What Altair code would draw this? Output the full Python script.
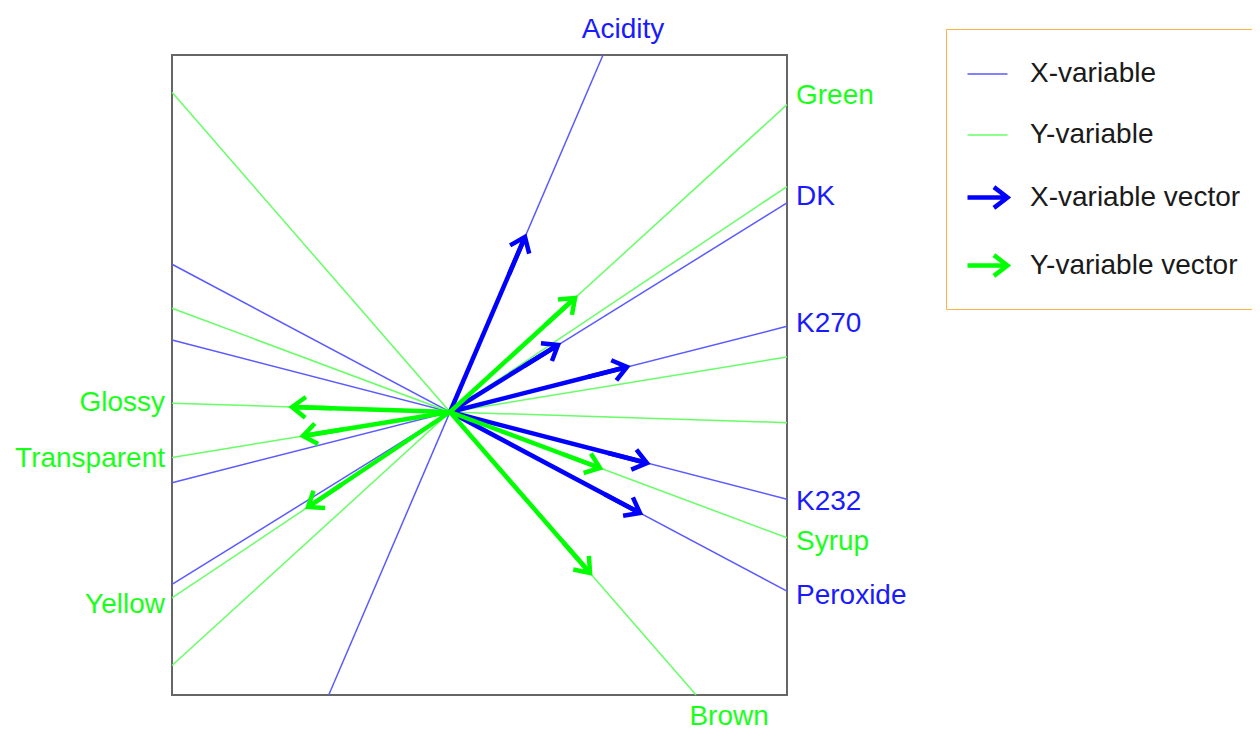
import math
import altair as alt
import pandas as pd

# ---- data (units: loadings, centre at 0,0) ----
x_names = ["Acidity", "DK", "K270", "K232", "Peroxide"]
x_vec_x = [0.75, 1.08, 1.77, 1.97, 1.90]
x_vec_y = [1.75, 0.67, 0.45, -0.51, -1.01]

y_names = ["Green", "Yellow", "Transparent", "Glossy", "Syrup", "Brown"]
y_vec_x = [1.25, -1.42, -1.47, -1.58, 1.50, 1.40]
y_vec_y = [1.14, -0.95, -0.24, 0.05, -0.56, -1.61]

legend_labels = ["X-variable", "Y-variable", "X-variable vector", "Y-variable vector"]

X_DOMAIN = [-2.78, 3.37]
Y_DOMAIN = [-2.83, 3.57]
LABEL_EXT = 0.10  # how far side labels sit beyond the box, along their line

# ---- styles ----
LINE_BLUE = "#5a5aff"
LINE_GREEN = "#66ff66"
ARROW_BLUE = "#0000ff"
ARROW_GREEN = "#00ff00"
TEXT_BLUE = "#1a1aff"
TEXT_GREEN = "#1aff1a"
FONT = "Liberation Sans"
# symbol paths: tip at the origin, drawn pointing right (rotated by 'angle')
LINE_PATH = "M-2,0L0,0"
ARROW_PATH = "M-2,0L0,0M-0.68,-0.52L0,0L-0.68,0.52"


def edge(vx, vy):
    """Scale factor that carries direction (vx, vy) from the centre to the box edge."""
    cands = []
    if vx > 0:
        cands.append((X_DOMAIN[1] / vx, "right"))
    elif vx < 0:
        cands.append((X_DOMAIN[0] / vx, "left"))
    if vy > 0:
        cands.append((Y_DOMAIN[1] / vy, "top"))
    elif vy < 0:
        cands.append((Y_DOMAIN[0] / vy, "bottom"))
    return min(cands)


line_rows, vec_rows, label_rows = [], [], []
for grp, names, vxs, vys in [("X", x_names, x_vec_x, x_vec_y),
                             ("Y", y_names, y_vec_x, y_vec_y)]:
    for name, vx, vy in zip(names, vxs, vys):
        tp, side = edge(vx, vy)
        tn, _ = edge(-vx, -vy)
        line_rows.append({"kind": f"{grp}-variable", "x1": -tn * vx, "y1": -tn * vy,
                          "x2": tp * vx, "y2": tp * vy})
        vec_rows.append({"kind": f"{grp}-variable vector", "x0": 0.0, "y0": 0.0,
                         "xt": vx, "yt": vy,
                         "angle": math.degrees(math.atan2(-vy, vx)) % 360})
        tl = tp + (LABEL_EXT / abs(vx) if side in ("left", "right") else 0.0)
        label_rows.append({"name": name, "group": grp, "side": side,
                           "lx": tp * vx, "ly": tl * vy})

lines_df = pd.DataFrame(line_rows)
vec_df = pd.DataFrame(vec_rows)
label_df = pd.DataFrame(label_rows)

xs = alt.Scale(domain=X_DOMAIN, nice=False, zero=False)
ys = alt.Scale(domain=Y_DOMAIN, nice=False, zero=False)
color_scale = alt.Scale(domain=legend_labels,
                        range=[LINE_BLUE, LINE_GREEN, ARROW_BLUE, ARROW_GREEN])
shape_scale = alt.Scale(domain=legend_labels,
                        range=[LINE_PATH, LINE_PATH, ARROW_PATH, ARROW_PATH])
width_scale = alt.Scale(type="ordinal", domain=legend_labels, range=[1.5, 1.5, 4.5, 4.5])

legend = alt.Legend(
    title=None, orient="none", legendX=774, legendY=-26,
    padding=24, strokeColor="#ffb347",
    labelFont=FONT, labelFontSize=28, labelColor="#1a1a1a", labelLimit=400,
    labelOffset=0, symbolSize=1600, symbolOffset=15, rowPadding=26,
    symbolOpacity=1, symbolFillColor="transparent",
)

lines = alt.Chart(lines_df).mark_rule(strokeWidth=1.5).encode(
    x=alt.X("x1:Q", scale=xs, axis=None),
    y=alt.Y("y1:Q", scale=ys, axis=None),
    x2="x2:Q", y2="y2:Q",
    color=alt.Color("kind:N", scale=color_scale, legend=legend),
)

shafts = alt.Chart(vec_df).mark_rule(strokeWidth=4.5).encode(
    x=alt.X("x0:Q", scale=xs, axis=None),
    y=alt.Y("y0:Q", scale=ys, axis=None),
    x2="xt:Q", y2="yt:Q",
    color=alt.Color("kind:N", scale=color_scale, legend=legend),
)

heads = alt.Chart(vec_df).mark_point(
    filled=False, size=1600, strokeJoin="miter", opacity=1
).encode(
    x=alt.X("xt:Q", scale=xs, axis=None),
    y=alt.Y("yt:Q", scale=ys, axis=None),
    angle=alt.Angle("angle:Q", scale=None),
    color=alt.Color("kind:N", scale=color_scale, legend=legend),
    shape=alt.Shape("kind:N", scale=shape_scale, legend=legend),
    strokeWidth=alt.StrokeWidth("kind:N", scale=width_scale, legend=legend),
)

text_color = alt.condition(alt.datum.group == "X", alt.value(TEXT_BLUE), alt.value(TEXT_GREEN))
side_styles = {
    "right": dict(align="left", dx=9, dy=0),
    "left": dict(align="right", dx=-7, dy=0),
    "top": dict(align="center", dx=20, dy=-25),
    "bottom": dict(align="center", dx=33, dy=22),
}
text_layers = []
for side, st in side_styles.items():
    text_layers.append(
        alt.Chart(label_df).transform_filter(alt.datum.side == side).mark_text(
            baseline="middle", font=FONT, fontSize=28, **st
        ).encode(
            x=alt.X("lx:Q", scale=xs, axis=None),
            y=alt.Y("ly:Q", scale=ys, axis=None),
            text="name:N",
            color=text_color,
        )
    )

chart = alt.layer(lines, shafts, heads, *text_layers).properties(
    width=615, height=640,
    padding={"left": 164, "top": 47, "right": 465, "bottom": 37},
    autosize=alt.AutoSizeParams(type="none"),
    background="white",
).configure_view(stroke="#666666", strokeWidth=2)

chart.save("out.html", embed_options={"renderer": "svg", "actions": False})
